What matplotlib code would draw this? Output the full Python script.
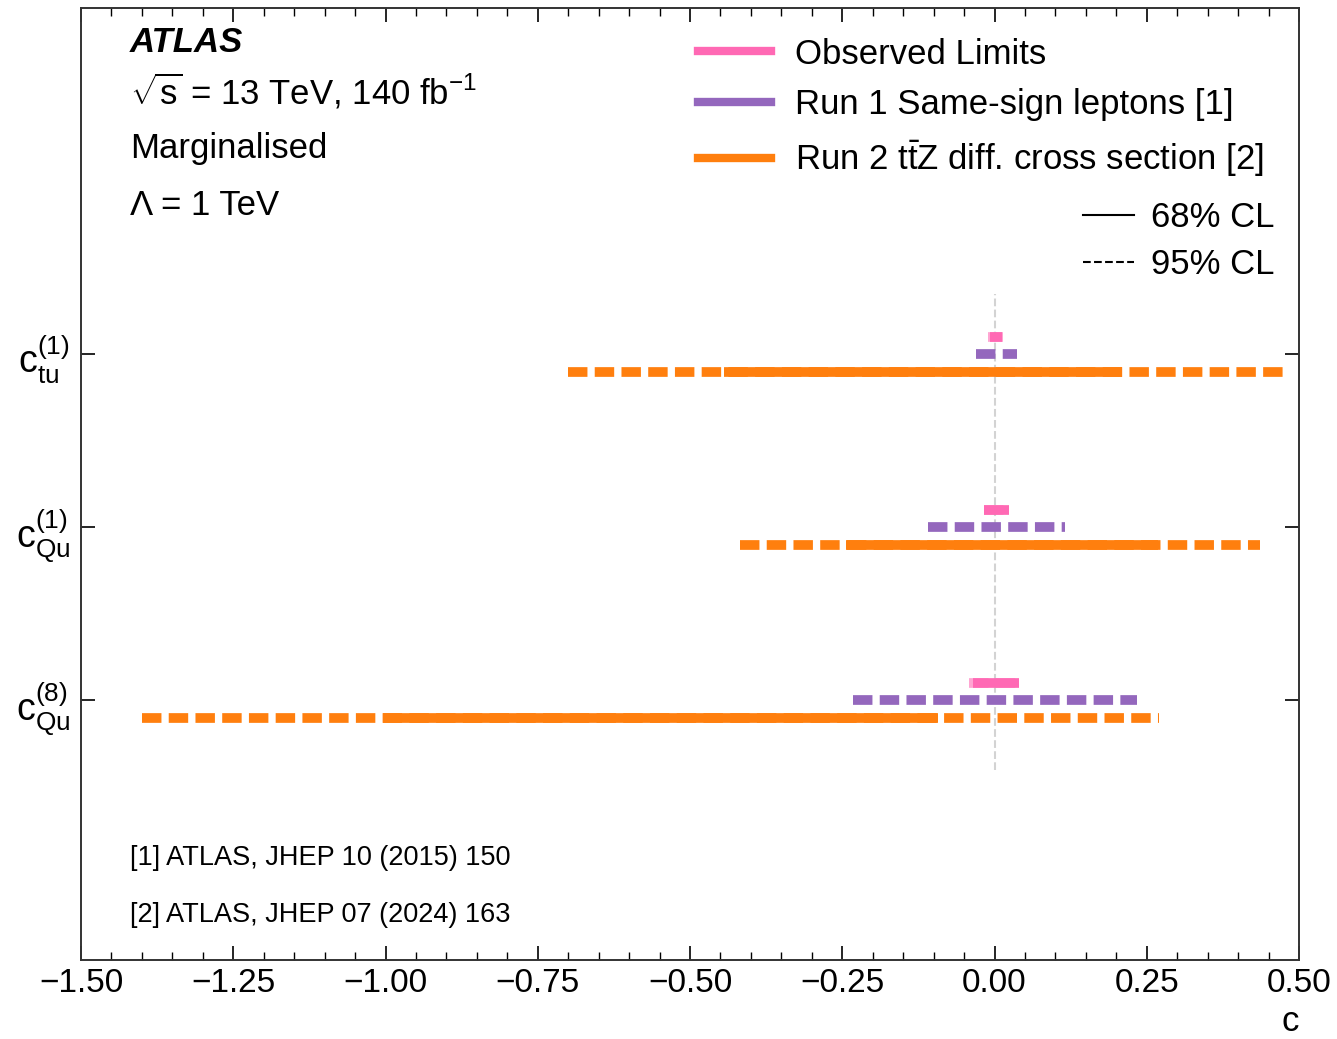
import matplotlib
matplotlib.use("Agg")
import matplotlib.pyplot as plt
from matplotlib.lines import Line2D
from matplotlib.ticker import MultipleLocator, FuncFormatter

plt.rcParams['font.family'] = ['Liberation Sans', 'DejaVu Sans']
plt.rcParams['mathtext.fontset'] = 'custom'
plt.rcParams['mathtext.rm'] = 'Liberation Sans'
plt.rcParams['mathtext.it'] = 'Liberation Sans:italic'
plt.rcParams['mathtext.bf'] = 'Liberation Sans:bold'

# coefficients, top to bottom
coeffs = [r"$\mathrm{c}_{\mathrm{tu}}^{(1)}$",
          r"$\mathrm{c}_{\mathrm{Qu}}^{(1)}$",
          r"$\mathrm{c}_{\mathrm{Qu}}^{(8)}$"]

# observed limits (this result)
obs_68 = [(-0.008, 0.013), (-0.017, 0.024), (-0.035, 0.040)]
obs_95 = [(-0.010, 0.014), (-0.018, 0.024), (-0.042, 0.040)]
# Run 1 same-sign leptons (95% only)
run1_95 = [(-0.030, 0.037), (-0.109, 0.116), (-0.232, 0.234)]
# Run 2 ttZ differential cross section
run2_68 = [(-0.444, 0.209), (-0.244, 0.268), (-1.004, -0.093)]
run2_95 = [(-0.700, 0.474), (-0.418, 0.436), (-1.400, 0.270)]

c_obs = '#ff69b4'
c_run1 = '#9467bd'
c_run2 = '#ff7f0e'

fig = plt.figure(figsize=(13.37, 10.39), dpi=100)
ax = fig.add_axes([0.0606, 0.076, 0.911, 0.9163])

lw = 7
dash = (2.0, 0.75)
n = len(coeffs)
ypos = [n - i for i in range(n)]
off = 0.1

ax.plot([0, 0], [0.6, 3.35], color='lightgray', ls='--', lw=1.5, zorder=0)

for i, y in enumerate(ypos):
    # observed
    ax.plot(obs_95[i], [y + off] * 2, color=c_obs, lw=lw, dashes=dash, alpha=0.6)
    ax.plot(obs_68[i], [y + off] * 2, color=c_obs, lw=lw, solid_capstyle='butt')
    # run 1
    ax.plot(run1_95[i], [y] * 2, color=c_run1, lw=lw, dashes=dash)
    # run 2
    ax.plot(run2_95[i], [y - off] * 2, color=c_run2, lw=lw, dashes=dash)
    ax.plot(run2_68[i], [y - off] * 2, color=c_run2, lw=lw, solid_capstyle='butt')

ax.set_xlim(-1.5, 0.5)
ax.set_ylim(-0.5, 5.0)
ax.set_yticks(ypos)
ax.set_yticklabels(coeffs, fontsize=27)
ax.xaxis.set_major_locator(MultipleLocator(0.25))
ax.xaxis.set_minor_locator(MultipleLocator(0.05))
ax.xaxis.set_major_formatter(FuncFormatter(lambda v, p: f"{v:.2f}".replace('-', '\u2212')))
ax.tick_params(axis='x', which='both', direction='in', top=True, labelsize=24, pad=6)
ax.tick_params(axis='x', which='major', length=10, width=1.2)
ax.tick_params(axis='x', which='minor', length=6, width=1.0)
ax.tick_params(axis='y', which='major', direction='in', right=True, length=10, width=1.2, pad=8)
for s in ax.spines.values():
    s.set_linewidth(1.4)
    s.set_color('#333333')

ax.set_xlabel('c', fontsize=25, loc='right', labelpad=4)

# top-left annotations
tx = 0.040
ax.text(tx, 0.964, 'ATLAS', transform=ax.transAxes, fontsize=25, fontweight='bold',
        fontstyle='italic', va='center')
ax.text(tx, 0.912, r'$\sqrt{\mathrm{s}}$ = 13 TeV, 140 fb$^{-1}$', transform=ax.transAxes,
        fontsize=25, va='center')
ax.text(tx, 0.852, 'Marginalised', transform=ax.transAxes, fontsize=25, va='center')
ax.text(tx, 0.793, 'Λ = 1 TeV', transform=ax.transAxes, fontsize=25, va='center')
ax.text(tx, 0.107, '[1] ATLAS, JHEP 10 (2015) 150', transform=ax.transAxes,
        fontsize=19.5, va='center')
ax.text(tx, 0.047, '[2] ATLAS, JHEP 07 (2024) 163', transform=ax.transAxes,
        fontsize=19.5, va='center')

# legends
h1 = [Line2D([], [], color=c_obs, lw=6),
      Line2D([], [], color=c_run1, lw=6),
      Line2D([], [], color=c_run2, lw=6)]
l1 = ['Observed Limits', 'Run 1 Same-sign leptons [1]',
      r'Run 2 $\mathrm{t\bar{t}Z}$ diff. cross section [2]']
leg1 = ax.legend(h1, l1, loc='upper left', bbox_to_anchor=(0.5066, 0.969),
                 frameon=False, fontsize=25, handlelength=2.1, handletextpad=0.7,
                 labelspacing=0.5, borderpad=0, borderaxespad=0)
ax.add_artist(leg1)

h2 = [Line2D([], [], color='black', lw=1.5),
      Line2D([], [], color='black', lw=1.5, ls='--')]
ax.legend(h2, ['68% CL', '95% CL'], loc='upper right', bbox_to_anchor=(0.98, 0.797),
          frameon=False, fontsize=25, handlelength=1.45, handletextpad=0.5,
          labelspacing=0.39, borderpad=0, borderaxespad=0)

fig.savefig('out.png', dpi=100)
